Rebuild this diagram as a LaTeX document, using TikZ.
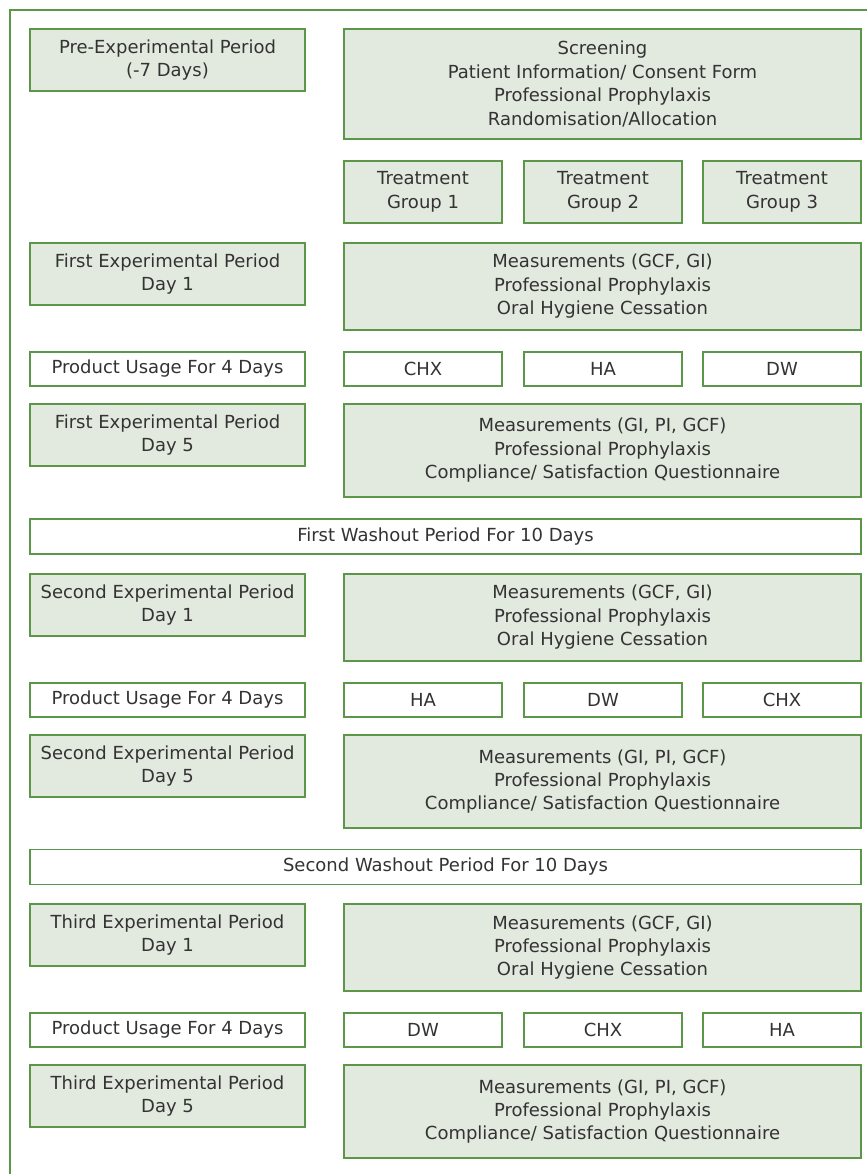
\documentclass[tikz,border=0pt]{standalone}
\usepackage{fontspec}
\setmainfont{DejaVu Sans}
\usetikzlibrary{positioning}
\definecolor{boxgreen}{RGB}{226,233,222}
\definecolor{edgegreen}{RGB}{92,150,72}
\definecolor{txtgrey}{RGB}{51,51,51}

\tikzset{
  greenbox/.style={draw=edgegreen,fill=boxgreen,line width=0.9pt,align=center,inner sep=0pt,
    text=txtgrey,font=\fontsize{13.5}{17.6}\selectfont},
  whitebox/.style={greenbox,fill=white},
  sz/.style 2 args={minimum width=#1*0.75pt,minimum height=#2*0.75pt},
}

\begin{document}
\begin{tikzpicture}[x=0.75pt,y=-0.75pt]
    \clip (0,0) rectangle (867,1174);
    % outer frame, only top and left edge inside the page
    \draw[edgegreen,line width=0.9pt] (10,1300) -- (10,10) -- (1000,10);
    % pre-experimental period
    \node[greenbox,sz={275}{62}] (pre) at (167.5,60) {Pre-Experimental Period\\(-7 Days)};
    \node[greenbox,sz={517}{110}] (screen) at (602.5,84) {Screening\\Patient Information/ Consent Form\\Professional Prophylaxis\\Randomisation/Allocation};
    \foreach \g/\gx in {1/423,2/603,3/782}
      \node[greenbox,sz={158}{62}] (grp\g) at (\gx,192) {Treatment\\Group \g};
    % three experimental periods
    \foreach \p/\ord/\dy/\da/\db/\dc in {1/First/0/CHX/HA/DW,2/Second/331/HA/DW/CHX,3/Third/661/DW/CHX/HA} {
      \node[greenbox,sz={275}{62}] (start\p) at (167.5,274+\dy) {\ord\ Experimental Period\\Day 1};
      \node[greenbox,sz={517}{87}] (meas\p) at (602.5,286.5+\dy) {Measurements (GCF, GI)\\Professional Prophylaxis\\Oral Hygiene Cessation};
      \node[whitebox,sz={275}{34}] (use\p) at (167.5,369+\dy) {Product Usage For 4 Days};
      \node[whitebox,sz={158}{34}] (prodA\p) at (423,369+\dy) {\da};
      \node[whitebox,sz={158}{34}] (prodB\p) at (603,369+\dy) {\db};
      \node[whitebox,sz={158}{34}] (prodC\p) at (782,369+\dy) {\dc};
      \node[greenbox,sz={275}{62}] (end\p) at (167.5,435+\dy) {\ord\ Experimental Period\\Day 5};
      \node[greenbox,sz={517}{93}] (final\p) at (602.5,450.5+\dy) {Measurements (GI, PI, GCF)\\Professional Prophylaxis\\Compliance/ Satisfaction Questionnaire};
    }
    % washout periods
    \node[whitebox,sz={831}{35}] (wash1) at (445.5,536.5) {First Washout Period For 10 Days};
    \node[whitebox,sz={831}{35}] (wash2) at (445.5,867) {Second Washout Period For 10 Days};
\end{tikzpicture}
\end{document}
